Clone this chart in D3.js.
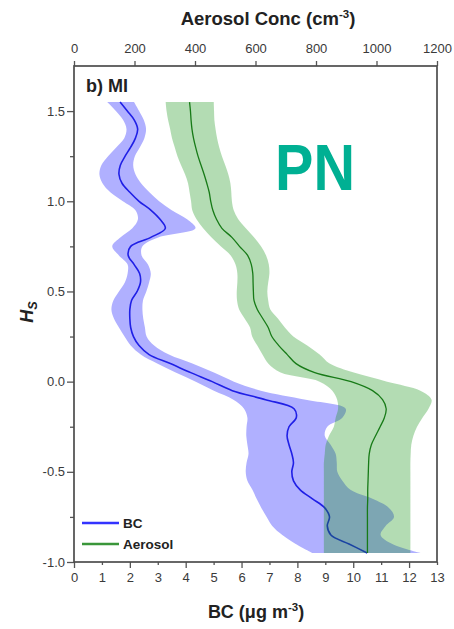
<!DOCTYPE html>
<html>
<head>
<meta charset="utf-8">
<script src="https://cdnjs.cloudflare.com/ajax/libs/d3/7.8.5/d3.min.js"></script>
<style>
	body { margin: 0; background: #fff; }
	svg text { font-family: "Liberation Sans", Arial, sans-serif; }
	.axis text { font-size: 13px; fill: #3a3a3a; }
	.axis line { stroke: #555; stroke-width: 1.3; }
	.axis .domain { display: none; }
</style>
</head>
<body>
<div id="chart"></div>
<script>

// scaled height levels (top of profile to bottom)
var hsLevels = [
	1.55, 1.5, 1.45, 1.4, 1.35, 1.3, 1.25, 1.2, 1.15, 1.1,
	1.05, 1.0, 0.95, 0.9, 0.85, 0.8, 0.75, 0.7, 0.65, 0.6,
	0.55, 0.5, 0.45, 0.4, 0.35, 0.3, 0.25, 0.2, 0.15, 0.1,
	0.05, 0.0, -0.05, -0.1, -0.15, -0.2, -0.25, -0.3, -0.35, -0.4,
	-0.45, -0.5, -0.55, -0.6, -0.65, -0.7, -0.75, -0.8, -0.85, -0.9,
	-0.95
];

// BC (ug m-3): mean and spread
var bcMean = [
	1.65, 1.91, 2.16, 2.28, 2.20, 2.03, 1.83, 1.66, 1.61, 1.72,
	2.00, 2.33, 2.76, 3.08, 3.27, 2.75, 2.03, 1.94, 2.15, 2.35,
	2.38, 2.26, 2.06, 2.00, 2.00, 2.03, 2.13, 2.33, 2.69, 3.45,
	4.18, 4.95, 5.67, 6.86, 7.88, 7.96, 7.70, 7.63, 7.70, 7.80,
	7.86, 7.80, 7.86, 8.10, 8.54, 8.98, 9.15, 9.07, 9.20, 9.85,
	10.50
];
var bcLow = [
	1.19, 1.50, 1.76, 1.88, 1.80, 1.52, 1.22, 0.98, 0.91, 1.02,
	1.30, 1.75, 2.20, 2.29, 2.09, 1.67, 1.37, 1.61, 1.92, 1.92,
	1.82, 1.61, 1.41, 1.34, 1.43, 1.61, 1.81, 2.03, 2.39, 2.98,
	3.64, 4.36, 5.01, 5.71, 6.09, 6.21, 6.18, 6.17, 6.21, 6.25,
	6.18, 6.15, 6.21, 6.39, 6.54, 6.71, 6.90, 7.10, 7.46, 7.94,
	8.54
];
var bcHigh = [
	2.15, 2.33, 2.50, 2.58, 2.52, 2.36, 2.18, 2.12, 2.20, 2.40,
	2.70, 3.05, 3.50, 4.05, 4.35, 3.04, 2.45, 2.42, 2.65, 2.75,
	2.69, 2.59, 2.47, 2.45, 2.48, 2.54, 2.60, 2.87, 3.40, 4.24,
	5.01, 5.73, 6.69, 8.30, 9.73, 9.61, 9.07, 8.98, 9.19, 9.37,
	9.41, 9.43, 9.61, 9.90, 10.69, 11.28, 11.46, 11.16, 10.98, 11.40,
	12.42
];

// aerosol concentration (cm-3): mean and spread
var aeroMean = [
	382, 385, 387, 390, 395, 402, 410, 420, 430, 439,
	447, 452, 459, 471, 489, 522, 547, 574, 586, 591,
	592, 593, 595, 606, 624, 642, 654, 677, 705, 734,
	796, 916, 987, 1020, 1032, 1026, 1012, 997, 983, 976,
	974, 973, 972, 971, 971, 970, 970, 970, 970, 970,
	970
];
var aeroLow = [
	303, 306, 311, 318, 324, 333, 342, 354, 367, 377,
	382, 387, 391, 405, 427, 454, 485, 518, 534, 540,
	540, 538, 539, 546, 564, 582, 589, 606, 623, 642,
	683, 812, 854, 870, 873, 865, 859, 843, 832, 829,
	826, 826, 826, 826, 826, 826, 826, 826, 826, 826,
	826
];
var aeroHigh = [
	462, 463, 464, 468, 473, 480, 489, 500, 510, 517,
	520, 522, 528, 543, 568, 595, 618, 635, 644, 646,
	642, 639, 642, 649, 674, 697, 725, 771, 812, 845,
	925, 1035, 1145, 1182, 1172, 1152, 1134, 1122, 1115, 1113,
	1112, 1112, 1112, 1112, 1112, 1112, 1112, 1112, 1112, 1112,
	1112
];

// axis ticks
var bcTicks = [0, 1, 2, 3, 4, 5, 6, 7, 8, 9, 10, 11, 12, 13];
var aeroTicks = [0, 200, 400, 600, 800, 1000, 1200];
var hsTicks = [-1.0, -0.5, 0.0, 0.5, 1.0, 1.5];
var hsMinorTicks = [-0.75, -0.25, 0.25, 0.75, 1.25];
var legendNames = ["BC", "Aerosol"];


ProfileChart = function(_parentElement) {
	this.parentElement = _parentElement;
	this.initVis();
}

ProfileChart.prototype.initVis = function() {
	var vis = this;

	vis.margin = { top: 66, right: 17, bottom: 67, left: 74 };
	vis.width = 454 - vis.margin.left - vis.margin.right;
	vis.height = 629 - vis.margin.top - vis.margin.bottom;

	vis.svg = d3.select("#" + vis.parentElement).append("svg")
		.attr("width", 454)
		.attr("height", 629)
		.append("g")
		.attr("transform", "translate(" + vis.margin.left + "," + vis.margin.top + ")");

	// scales: BC on bottom, aerosol on top, Hs vertical
	vis.x = d3.scaleLinear().domain([0, 13]).range([0, vis.width]);
	vis.xTop = d3.scaleLinear().domain([0, 1200]).range([0, vis.width]);
	vis.y = d3.scaleLinear().domain([-1, 1.75]).range([vis.height, 0]);

	vis.wrangleData();
}

ProfileChart.prototype.wrangleData = function() {
	var vis = this;

	vis.bcData = hsLevels.map((h, i) => ({ hs: h, mean: bcMean[i], low: bcLow[i], high: bcHigh[i] }));
	vis.aeroData = hsLevels.map((h, i) => ({ hs: h, mean: aeroMean[i], low: aeroLow[i], high: aeroHigh[i] }));

	vis.updateVis();
}

ProfileChart.prototype.updateVis = function() {
	var vis = this;

	var curve = d3.curveCatmullRom.alpha(0.5);

	var bandFor = scale => d3.area()
		.curve(curve)
		.y(d => vis.y(d.hs))
		.x0(d => scale(d.low))
		.x1(d => scale(d.high));

	var lineFor = scale => d3.line()
		.curve(curve)
		.y(d => vis.y(d.hs))
		.x(d => scale(d.mean));

	// BC band and profile first, aerosol band is translucent over it
	vis.svg.append("path")
		.datum(vis.bcData)
		.attr("d", bandFor(vis.x))
		.attr("fill", "#b0b0ff");

	vis.svg.append("path")
		.datum(vis.bcData)
		.attr("d", lineFor(vis.x))
		.attr("fill", "none")
		.attr("stroke", "#1f1fe6")
		.attr("stroke-width", 1.6);

	vis.svg.append("path")
		.datum(vis.aeroData)
		.attr("d", bandFor(vis.xTop))
		.attr("fill", "rgb(15,144,15)")
		.attr("fill-opacity", 0.316);

	vis.svg.append("path")
		.datum(vis.aeroData)
		.attr("d", lineFor(vis.xTop))
		.attr("fill", "none")
		.attr("stroke", "#177a17")
		.attr("stroke-width", 1.3);

	// axes
	var bottomAxis = vis.svg.append("g")
		.attr("class", "axis x-axis")
		.attr("transform", "translate(0," + vis.height + ")")
		.call(d3.axisBottom(vis.x).tickValues(bcTicks).tickSize(6).tickPadding(5).tickFormat(d3.format("d")));
	// odd ticks are shorter
	bottomAxis.selectAll(".tick line").attr("y2", d => d % 2 === 0 ? 6 : 3);

	vis.svg.append("g")
		.attr("class", "axis top-axis")
		.call(d3.axisTop(vis.xTop).tickValues(aeroTicks).tickSize(5).tickPadding(8).tickFormat(d3.format("d")));

	vis.svg.append("g")
		.attr("class", "axis y-axis")
		.call(d3.axisLeft(vis.y).tickValues(hsTicks).tickSize(7).tickPadding(2).tickFormat(d => d.toFixed(1)));

	vis.svg.append("g")
		.attr("class", "axis y-axis-minor")
		.call(d3.axisLeft(vis.y).tickValues(hsMinorTicks).tickSize(4).tickFormat(""));

	// frame
	vis.svg.append("rect")
		.attr("width", vis.width)
		.attr("height", vis.height)
		.attr("fill", "none")
		.attr("stroke", "#4d4d4d")
		.attr("stroke-width", 1.7);

	// axis titles
	var top = vis.svg.append("text")
		.attr("x", 194)
		.attr("y", -41)
		.attr("text-anchor", "middle")
		.attr("font-size", 18.5)
		.attr("font-weight", "bold")
		.attr("fill", "#222");
	top.append("tspan").text("Aerosol Conc (cm");
	top.append("tspan").attr("font-size", 11.5).attr("dy", -7).text("-3");
	top.append("tspan").attr("dy", 7).text(")");

	var bottom = vis.svg.append("text")
		.attr("x", 182)
		.attr("y", 552)
		.attr("text-anchor", "middle")
		.attr("font-size", 18)
		.attr("font-weight", "bold")
		.attr("fill", "#222");
	bottom.append("tspan").text("BC (\u03bcg m");
	bottom.append("tspan").attr("font-size", 11.5).attr("dy", -7).text("-3");
	bottom.append("tspan").attr("dy", 7).text(")");

	var left = vis.svg.append("text")
		.attr("transform", "translate(-41," + 246 + ") rotate(-90)")
		.attr("text-anchor", "middle")
		.attr("font-size", 18)
		.attr("font-weight", "bold")
		.attr("font-style", "italic")
		.attr("fill", "#222");
	left.append("tspan").text("H");
	left.append("tspan").attr("font-size", 12.5).attr("dy", 4).text("S");

	// panel tag
	vis.svg.append("text")
		.attr("x", 12)
		.attr("y", 26)
		.attr("font-size", 18)
		.attr("font-weight", "bold")
		.attr("fill", "#222")
		.text("b) MI");

	vis.svg.append("text")
		.attr("x", 201)
		.attr("y", 124)
		.attr("font-family", "Lato, 'Open Sans', sans-serif")
		.attr("font-size", 64)
		.attr("font-weight", "bold")
		.attr("fill", "#00b093")
		.attr("textLength", 80)
		.attr("lengthAdjust", "spacingAndGlyphs")
		.text("PN");

	// legend
	var legendColors = ["#3333ff", "#3a963a"];
	var legend = vis.svg.selectAll(".legend-item")
		.data(legendNames)
		.enter().append("g")
		.attr("class", "legend-item")
		.attr("transform", (d, i) => "translate(8," + (457 + i * 21) + ")");

	legend.append("line")
		.attr("x1", 0)
		.attr("x2", 37)
		.attr("stroke", (d, i) => legendColors[i])
		.attr("stroke-width", 2.5);

	legend.append("text")
		.attr("x", 41)
		.attr("y", 5)
		.attr("font-size", 13.5)
		.attr("font-weight", "bold")
		.attr("fill", "#222")
		.text(d => d);
}

var chart = new ProfileChart("chart");

</script>
</body>
</html>
